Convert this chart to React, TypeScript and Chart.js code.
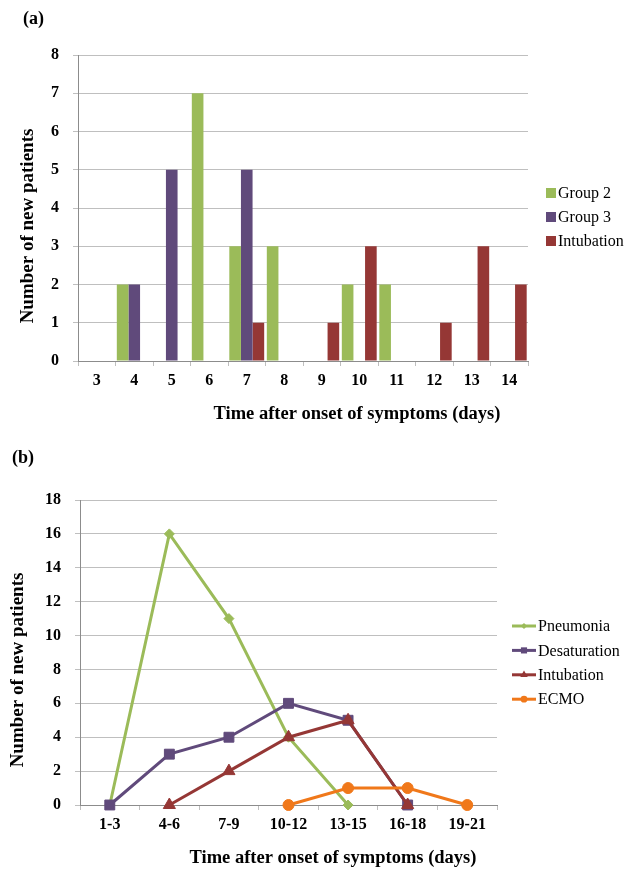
import React, { useEffect, useRef } from "react";
import { Chart, registerables } from "chart.js";
import { drawPoint } from "chart.js/helpers";

Chart.register(...registerables);

const SERIF = "'Liberation Serif', 'Times New Roman', serif";

// ---------- Panel (a) data ----------
const dayLabels = ["3", "4", "5", "6", "7", "8", "9", "10", "11", "12", "13", "14"];
const group2Counts = [0, 2, 0, 7, 3, 3, 0, 2, 2, 0, 0, 0];
const group3Counts = [0, 2, 5, 0, 5, 0, 0, 0, 0, 0, 0, 0];
const intubationDaily = [0, 0, 0, 0, 1, 0, 1, 3, 0, 1, 3, 2];
const barYMin = 0;
const barYMax = 8;
const barYStep = 1;

// ---------- Panel (b) data ----------
const periodLabels = ["1-3", "4-6", "7-9", "10-12", "13-15", "16-18", "19-21"];
const pneumoniaCounts = [0, 16, 11, 4, 0, null, null];
const desaturationCounts = [0, 3, 4, 6, 5, 0, null];
const intubationCounts = [null, 0, 2, 4, 5, 0, null];
const ecmoCounts = [null, null, null, 0, 1, 1, 0];
const lineYMin = 0;
const lineYMax = 18;
const lineYStep = 2;

const xTitleText = "Time after onset of symptoms (days)";
const yTitleText = "Number of new patients";

const GREEN = "#9BBB59";
const PURPLE = "#604A7B";
const RED = "#953735";
const ORANGE = "#F0781A";
const GRID = "#BFBFBF";
const AXIS = "#8C8C8C";

const tickFont = { family: SERIF, size: 16, weight: "bold" as const };

// Legend drawn from the datasets themselves
const sideLegend = {
  id: "sideLegend",
  afterDraw(chart: any, _args: any, opts: any) {
    const ctx = chart.ctx as CanvasRenderingContext2D;
    ctx.save();
    ctx.font = `16px ${SERIF}`;
    ctx.textBaseline = "middle";
    ctx.textAlign = "left";
    chart.data.datasets.forEach((ds: any, i: number) => {
      const cy = opts.y + i * opts.gap;
      if (opts.kind === "box") {
        ctx.fillStyle = ds.backgroundColor;
        ctx.fillRect(opts.x, cy - 5, 10, 10);
        ctx.fillStyle = "#000";
        ctx.fillText(ds.label, opts.x + 12, cy + 1);
      } else {
        ctx.strokeStyle = ds.borderColor;
        ctx.lineWidth = 3;
        ctx.beginPath();
        ctx.moveTo(opts.x, cy);
        ctx.lineTo(opts.x + 24, cy);
        ctx.stroke();
        ctx.fillStyle = ds.borderColor;
        drawPoint(
          ctx,
          { pointStyle: ds.pointStyle, radius: ds.pointRadius * 0.62, borderWidth: 0, rotation: 0 } as any,
          opts.x + 12,
          cy
        );
        ctx.fillStyle = "#000";
        ctx.fillText(ds.label, opts.x + 26, cy + 1);
      }
    });
    ctx.restore();
  },
};

// Axis captions, placed like the original (off-centre of the plot)
const axisCaptions = {
  id: "axisCaptions",
  afterDraw(chart: any, _args: any, opts: any) {
    const ctx = chart.ctx as CanvasRenderingContext2D;
    for (const c of opts.items || []) {
      ctx.save();
      ctx.font = `bold ${c.size}px ${SERIF}`;
      ctx.fillStyle = "#000";
      ctx.textAlign = "center";
      ctx.textBaseline = "middle";
      ctx.translate(c.x, c.y);
      if (c.vertical) ctx.rotate(-Math.PI / 2);
      ctx.fillText(c.text, 0, 0);
      ctx.restore();
    }
  },
};

function BarPanel() {
  const ref = useRef<HTMLCanvasElement>(null);
  useEffect(() => {
    const chart = new Chart(ref.current!, {
      type: "bar",
      data: {
        labels: dayLabels,
        datasets: [
          { label: "Group 2", data: group2Counts, backgroundColor: GREEN, borderWidth: 0 },
          { label: "Group 3", data: group3Counts, backgroundColor: PURPLE, borderWidth: 0 },
          { label: "Intubation", data: intubationDaily, backgroundColor: RED, borderWidth: 0 },
        ],
      },
      options: {
        responsive: false,
        maintainAspectRatio: false,
        animation: false,
        datasets: { bar: { categoryPercentage: 0.93, barPercentage: 1 } },
        layout: { padding: { left: 0, top: 55, right: 111, bottom: 0 } },
        plugins: {
          legend: { display: false },
          tooltip: { enabled: false },
          sideLegend: { kind: "box", x: 546, y: 193, gap: 24 },
          axisCaptions: {
            items: [
              { text: xTitleText, x: 357, y: 414, size: 18.5 },
              { text: yTitleText, x: 28, y: 226, size: 19, vertical: true },
            ],
          },
        } as any,
        scales: {
          x: {
            offset: true,
            grid: { offset: true, drawOnChartArea: false, drawTicks: true, tickLength: 5, color: GRID },
            border: { color: AXIS, width: 1 },
            ticks: { font: tickFont, color: "#000", padding: 5, maxRotation: 0, autoSkip: false },
            afterFit: (s: any) => {
              s.height = 69;
            },
          },
          y: {
            min: barYMin,
            max: barYMax,
            ticks: { stepSize: barYStep, font: tickFont, color: "#000", padding: 14 },
            grid: { color: GRID, tickLength: 5 },
            border: { color: AXIS, width: 1 },
            afterFit: (s: any) => {
              s.width = 78;
            },
          },
        },
      },
      plugins: [sideLegend, axisCaptions],
    });
    return () => chart.destroy();
  }, []);
  return <canvas ref={ref} width={639} height={430} style={{ position: "absolute", left: 0, top: 0 }} />;
}

function LinePanel() {
  const ref = useRef<HTMLCanvasElement>(null);
  useEffect(() => {
    const common = { borderWidth: 3, tension: 0, spanGaps: false, clip: false as any, pointBorderWidth: 1 };
    const chart = new Chart(ref.current!, {
      type: "line",
      data: {
        labels: periodLabels,
        datasets: [
          {
            ...common,
            label: "Pneumonia",
            data: pneumoniaCounts,
            borderColor: GREEN,
            backgroundColor: GREEN,
            pointBackgroundColor: GREEN,
            pointBorderColor: GREEN,
            pointStyle: "rectRot",
            pointRadius: 5,
            order: 4,
          },
          {
            ...common,
            label: "Desaturation",
            data: desaturationCounts,
            borderColor: PURPLE,
            backgroundColor: PURPLE,
            pointBackgroundColor: PURPLE,
            pointBorderColor: PURPLE,
            pointStyle: "rect",
            pointRadius: 7,
            order: 3,
          },
          {
            ...common,
            label: "Intubation",
            data: intubationCounts,
            borderColor: RED,
            backgroundColor: RED,
            pointBackgroundColor: RED,
            pointBorderColor: RED,
            pointStyle: "triangle",
            pointRadius: 7,
            order: 2,
          },
          {
            ...common,
            label: "ECMO",
            data: ecmoCounts,
            borderColor: ORANGE,
            backgroundColor: ORANGE,
            pointBackgroundColor: ORANGE,
            pointBorderColor: ORANGE,
            pointStyle: "circle",
            pointRadius: 5.5,
            order: 1,
          },
        ] as any,
      },
      options: {
        responsive: false,
        maintainAspectRatio: false,
        animation: false,
        layout: { padding: { left: 0, top: 70, right: 142, bottom: 0 } },
        plugins: {
          legend: { display: false },
          tooltip: { enabled: false },
          sideLegend: { kind: "line", x: 512, y: 196, gap: 24.4 },
          axisCaptions: {
            items: [
              { text: xTitleText, x: 333, y: 428, size: 18.5 },
              { text: yTitleText, x: 18, y: 240, size: 19, vertical: true },
            ],
          },
        } as any,
        scales: {
          x: {
            offset: true,
            grid: { offset: true, drawOnChartArea: false, drawTicks: true, tickLength: 5, color: GRID },
            border: { color: AXIS, width: 1 },
            ticks: { font: tickFont, color: "#000", padding: 5, maxRotation: 0, autoSkip: false },
            afterFit: (s: any) => {
              s.height = 64;
            },
          },
          y: {
            min: lineYMin,
            max: lineYMax,
            ticks: { stepSize: lineYStep, font: tickFont, color: "#000", padding: 14 },
            grid: { color: GRID, tickLength: 5 },
            border: { color: AXIS, width: 1 },
            afterFit: (s: any) => {
              s.width = 80;
            },
          },
        },
      },
      plugins: [sideLegend, axisCaptions],
    });
    return () => chart.destroy();
  }, []);
  return <canvas ref={ref} width={639} height={439} style={{ position: "absolute", left: 0, top: 430 }} />;
}

const panelLabelStyle: React.CSSProperties = {
  position: "absolute",
  fontFamily: SERIF,
  fontWeight: "bold",
  fontSize: 18,
  lineHeight: "22px",
  color: "#000",
  whiteSpace: "nowrap",
};

export default function App() {
  return (
    <div style={{ position: "absolute", left: 0, top: 0, width: 639, height: 869, background: "#fff" }}>
      <BarPanel />
      <LinePanel />
      <div style={{ ...panelLabelStyle, left: 23, top: 7 }}>(a)</div>
      <div style={{ ...panelLabelStyle, left: 12, top: 446 }}>(b)</div>
    </div>
  );
}
